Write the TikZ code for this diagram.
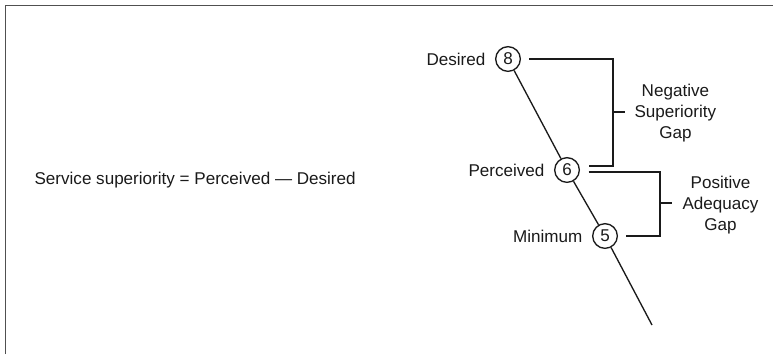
\documentclass[tikz,border=0pt]{standalone}
\usepackage{fontspec}
\setmainfont{Liberation Sans}
\usetikzlibrary{positioning}
\definecolor{framecol}{HTML}{505050}
\definecolor{inkcol}{HTML}{1A1A1A}

\begin{document}
\begin{tikzpicture}[
  x=0.75pt, y=-0.75pt,
  node distance=6pt,
  levelnode/.style={draw=inkcol, circle, line width=1pt, minimum size=18.5pt, inner sep=0pt,
                    font=\fontsize{12.8}{15}\selectfont, text=inkcol},
  levellabel/.style={font=\fontsize{12.8}{15}\selectfont, text=inkcol, inner sep=1pt},
  gaplabel/.style={font=\fontsize{12.8}{16}\selectfont, align=center, text=inkcol, inner sep=1pt},
  bracket/.style={draw=inkcol, line width=1pt},
  frameline/.style={draw=framecol, line width=1pt},
]
\useasboundingbox (0,0) rectangle (773,354);

% Frame
\draw[frameline] (5.5,354) -- (5.5,5.5) -- (773,5.5);

% Formula
\node[levellabel, anchor=base west] (FORM) at (33,184) {Service superiority = Perceived — Desired};

% Levels
\node[levelnode] (DES) at (508,59)  {8};
\node[levelnode] (PER) at (567,170) {6};
\node[levelnode] (MIN) at (605,236) {5};
\coordinate (TAIL) at (652,325);

\node[levellabel, left=of DES] (DESL) {Desired};
\node[levellabel, left=of PER] (PERL) {Perceived};
\node[levellabel, left=of MIN] (MINL) {Minimum};

\draw[bracket] (DES) -- (PER) -- (MIN) -- (TAIL);

% Gaps
\coordinate (NSG) at (613,112);
\coordinate (PAG) at (660,203);

\draw[bracket] ([xshift=6pt]DES.east) -| (NSG) |- ([xshift=6.5pt, yshift=3pt]PER.east);
\draw[bracket] ([xshift=6.5pt, yshift=-1.5pt]PER.east) -| (PAG) |- ([xshift=6pt]MIN.east);
\draw[bracket] (NSG) -- ++(12,0);
\draw[bracket] (PAG) -- ++(12,0);

\node[gaplabel, anchor=west] (NSGL) at (633,113) {Negative\\Superiority\\Gap};
\node[gaplabel, anchor=west] (PAGL) at (681,205) {Positive\\Adequacy\\Gap};

\end{tikzpicture}
\end{document}
